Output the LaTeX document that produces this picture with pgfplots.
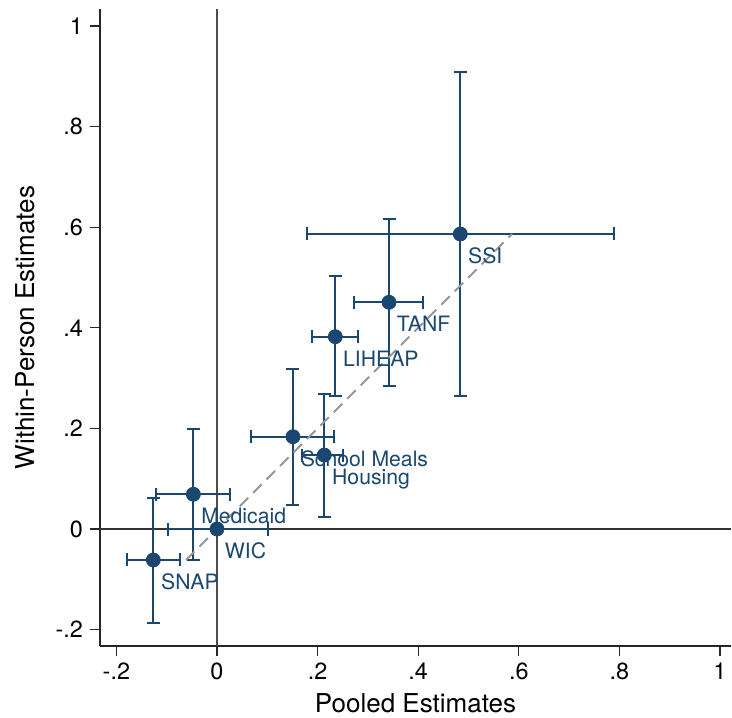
\documentclass[border=0pt]{standalone}
\usepackage{fontspec}
\setmainfont{TeX Gyre Heros}
\usepackage{pgfplots}
\usepackage{pgfplotstable}
\pgfplotsset{compat=1.18}
\definecolor{StNavy}{RGB}{26,71,111}
\definecolor{RefGray}{RGB}{150,150,150}

% program, pooled est. and CI, within-person est. and CI
\pgfplotstableread[col sep=comma]{
name,x,xlo,xhi,y,ylo,yhi
SNAP,-0.1266,-0.1795,-0.0736,-0.0616,-0.1860,0.0622
Medicaid,-0.0470,-0.1213,0.0258,0.0690,-0.0616,0.1990
WIC,0.0000,-0.0980,0.1008,0.0000,0.0000,0.0000
School Meals,0.1510,0.0676,0.2326,0.1835,0.0477,0.3180
Housing,0.2133,0.1680,0.2510,0.1470,0.0245,0.2680
LIHEAP,0.2352,0.1880,0.2810,0.3823,0.2644,0.5030
TANF,0.3420,0.2730,0.4100,0.4507,0.2850,0.6157
SSI,0.4837,0.1780,0.7887,0.5865,0.2644,0.9090
}\estimates

\begin{document}
\begin{tikzpicture}
\begin{axis}[
  name=main,
  scale only axis,
  width=315.5pt, height=318.5pt,
  xmin=-0.2326, xmax=1.0219,
  ymin=-0.2326, ymax=1.0338,
  axis x line*=bottom,
  axis y line*=left,
  axis line style={line width=0.65pt, black!85},
  tick align=outside,
  major tick length=5pt,
  tick style={line width=0.6pt, black!85},
  xtick={-0.2,0,0.2,0.4,0.6,0.8,1},
  xticklabels={-.2,0,.2,.4,.6,.8,1},
  ytick={-0.2,0,0.2,0.4,0.6,0.8,1},
  yticklabels={-.2,0,.2,.4,.6,.8,1},
  ticklabel style={font=\fontsize{11.7}{14}\selectfont},
  xlabel={Pooled Estimates},
  ylabel={Within-Person Estimates},
  label style={font=\fontsize{13}{15}\selectfont},
  xlabel style={at={(axis description cs:0.5,0)}, anchor=center, yshift=-28.5pt},
  ylabel style={at={(axis description cs:0,0.5)}, anchor=center, yshift=37.5pt},
  clip=false,
]
% reference lines at zero
\addplot[black!70, line width=0.65pt] coordinates {(0,-0.2326) (0,1.0338)};
\addplot[black!80, line width=0.6pt] coordinates {(-0.2326,0) (1.0219,0)};

% estimates with 95% CIs
\addplot[
  only marks,
  mark=*, mark size=3.5pt,
  mark options={fill=StNavy, draw=StNavy},
  StNavy,
  error bars/.cd,
    x dir=both, x explicit,
    y dir=both, y explicit,
    error bar style={line width=1pt, StNavy},
    error mark options={rotate=90, mark size=3.25pt, line width=1pt, StNavy},
] table[
  x=x, y=y,
  x error plus expr=\thisrow{xhi}-\thisrow{x},
  x error minus expr=\thisrow{x}-\thisrow{xlo},
  y error plus expr=\thisrow{yhi}-\thisrow{y},
  y error minus expr=\thisrow{y}-\thisrow{ylo},
] {\estimates};

% program names, placed at 4 o'clock
\addplot[
  only marks, mark=none,
  point meta=explicit symbolic,
  nodes near coords,
  nodes near coords style={anchor=base west, xshift=3.75pt, yshift=-14.7pt,
    font=\fontsize{10.6}{12}\selectfont, text=StNavy, inner sep=0pt},
] table[x=x, y=y, meta=name] {\estimates};

% 45-degree line
\addplot[RefGray, line width=1pt, dash pattern=on 6pt off 3.5pt]
  coordinates {(-0.0616,-0.0616) (0.5865,0.5865)};
\end{axis}
\pgfresetboundingbox
\path (main.south west) ++(-50pt,-35.5pt) coordinate (bl)
      (main.north east) ++(0.5pt,4.5pt) coordinate (tr);
\path[use as bounding box] (bl) rectangle (tr);
\end{tikzpicture}
\end{document}
